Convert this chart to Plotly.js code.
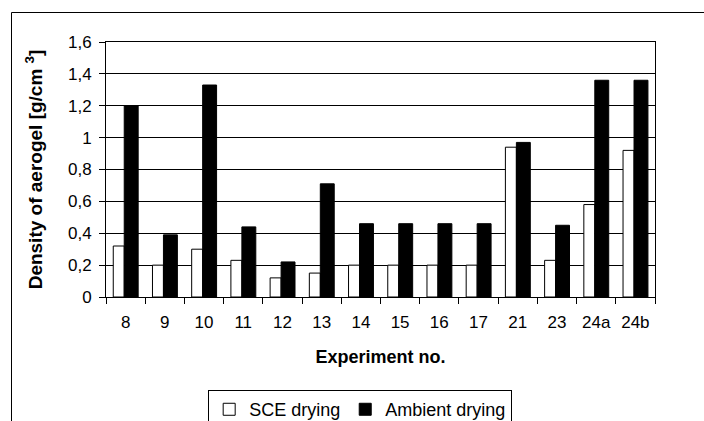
<!DOCTYPE html>
<html>
<head>
<meta charset="utf-8">
<script src="https://cdn.plot.ly/plotly-3.0.1.min.js"></script>
<style>html,body{margin:0;padding:0;background:#fff;}#chart{width:704px;height:421px;}</style>
</head>
<body>
<div id="chart"></div>
<script>
var experiments = ['8','9','10','11','12','13','14','15','16','17','21','23','24a','24b'];
var sceDrying = [0.32,0.20,0.30,0.23,0.12,0.15,0.20,0.20,0.20,0.20,0.94,0.23,0.58,0.92];
var ambientDrying = [1.20,0.39,1.33,0.44,0.22,0.71,0.46,0.46,0.46,0.46,0.97,0.45,1.36,1.36];
var seriesNames = ['SCE drying','Ambient drying'];
var yTickVals = [0,0.2,0.4,0.6,0.8,1,1.2,1.4,1.6];

var FONT = '"Liberation Sans", Arial, sans-serif';

var traces = [
  {type:'bar', name:seriesNames[0], x:experiments, y:sceDrying,
   offset:-0.315, width:0.28,
   marker:{color:'#ffffff', line:{color:'#000000', width:1}}},
  {type:'bar', name:seriesNames[1], x:experiments, y:ambientDrying,
   offset:-0.035, width:0.355,
   marker:{color:'#000000', line:{color:'#000000', width:1}}}
];

var layout = {
  width:704, height:421,
  margin:{l:106, r:49, t:42, b:124, autoexpand:false},
  paper_bgcolor:'#ffffff', plot_bgcolor:'#ffffff',
  separators:', ',
  font:{family:FONT, color:'#000000', size:17},
  barmode:'overlay',
  showlegend:true,
  legend:{orientation:'h', x:0.463, xanchor:'center', y:-0.365, yanchor:'top',
          bordercolor:'#000000', borderwidth:1, bgcolor:'#ffffff',
          font:{family:FONT, size:18, color:'#000000'}, itemwidth:30, traceorder:'normal'},
  xaxis:{type:'category', range:[-0.5,13.5], showline:true, linecolor:'#000000', linewidth:1, mirror:true,
         ticks:'outside', tickson:'boundaries', ticklen:6, tickcolor:'#000000', tickwidth:1,
         ticklabelstandoff:10,
         showgrid:false, zeroline:false, tickfont:{family:FONT, size:17},
         title:{text:'<b>Experiment no.</b>', font:{family:FONT, size:18}, standoff:18}},
  yaxis:{range:[0,1.6], tickvals:yTickVals, showline:true, linecolor:'#000000', linewidth:1, mirror:true,
         ticks:'outside', ticklen:6, tickcolor:'#000000', tickwidth:1, ticklabelstandoff:4,
         showgrid:true, gridcolor:'#000000', gridwidth:1, zeroline:false,
         tickfont:{family:FONT, size:17},
         title:{text:'<b>Density of aerogel [g/cm <sup>3</sup>]</b>', font:{family:FONT, size:19}, standoff:20}},
  shapes:[
    {type:'rect', xref:'paper', yref:'paper', x0:(11.5-106)/549, x1:1.3, y0:(297-12.5)/255, y1:-0.7,
     line:{color:'#000000', width:1}, fillcolor:'rgba(0,0,0,0)', layer:'below'}
  ]
};

Plotly.newPlot('chart', traces, layout, {displayModeBar:false, staticPlot:true});
</script>
</body>
</html>
